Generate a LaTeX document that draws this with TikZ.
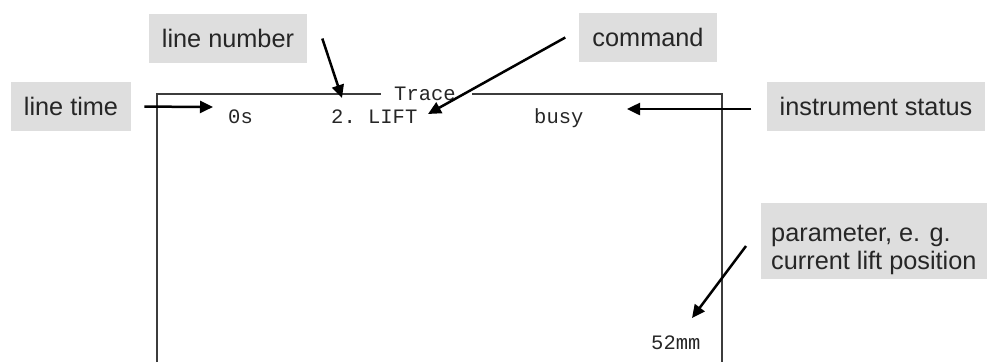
\documentclass[tikz,border=0pt]{standalone}
\usepackage{fontspec}
\setmainfont{Liberation Sans}
\setmonofont{Liberation Mono}
\usetikzlibrary{arrows.meta}
\definecolor{labelgray}{RGB}{222,222,222}
\definecolor{framegray}{RGB}{60,60,60}
\begin{document}
\begin{tikzpicture}[x=1pt,y=-1pt,
    tag/.style={fill=labelgray,inner xsep=13pt,minimum height=49pt,text=black!85,font=\fontsize{25.3}{23}\selectfont},
    screen/.style={anchor=base west,inner sep=0pt,text=black!85,font=\fontsize{20.5}{22}\selectfont\ttfamily},
    frame/.style={draw=framegray,line width=1.3pt},
    pointer/.style={line width=2.5pt,-{Triangle[length=13pt,width=12pt]}}]
    \useasboundingbox (0,0) rectangle (987,362);
    \draw [frame] (157,362) -- (157,94) -- (381,94);
    \draw [frame] (472,94) -- (722,94) -- (722,362);
    \node [screen] (trace) at (394,100) {Trace};
    \node [screen] (tzero) at (228,123) {0s};
    \node [screen] (lift) at (331,123) {2. LIFT};
    \node [screen] (busy) at (534,123) {busy};
    \node [screen] (pos) at (651,349) {52mm};
    \node [tag] (ltime) at (71,106.5) {line time};
    \node [tag] (lnum) at (228,38.5) {line number};
    \node [tag] (cmd) at (648,37.5) {command};
    \node [tag] (state) at (876,106) {instrument status};
    \fill [labelgray] (761,203) rectangle (987,279);
    \node [anchor=west,align=left,inner sep=0pt,text=black!85,font=\fontsize{25.3}{23}\selectfont] (param) at (771,250) {parameter, e. g.\\[3pt]current lift position};
    \coordinate (timetip) at (213,107);
    \coordinate (numtip) at (342,98);
    \coordinate (cmdtip) at (428,114);
    \coordinate (statetip) at (627,109);
    \coordinate (postip) at (692,318);
    \coordinate (posfrom) at (746,246);
    \draw [pointer,shorten <=13pt] (ltime.east) -- (timetip);
    \draw [pointer] ([xshift=15pt]lnum.east) -- (numtip);
    \draw [pointer] ([xshift=-14pt]cmd.west) -- (cmdtip);
    \draw [pointer] ([shift={(-15pt,-3pt)}]state.west) -- (statetip);
    \draw [pointer] (posfrom) -- (postip);
\end{tikzpicture}
\end{document}
